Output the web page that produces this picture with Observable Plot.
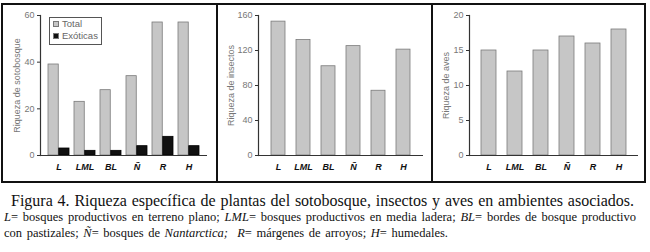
<!DOCTYPE html>
<html>
<head>
<meta charset="utf-8">
<script src="https://cdn.jsdelivr.net/npm/d3@7"></script>
<script src="https://cdn.jsdelivr.net/npm/@observablehq/plot@0.6"></script>
<style>
  html, body { margin: 0; padding: 0; background: #fff; }
  #page { position: relative; width: 650px; height: 252px; overflow: hidden; font-family: "Liberation Sans", Arial, sans-serif; }
  #frame { position: absolute; left: 1px; top: 3px; width: 645px; height: 180px; box-sizing: border-box; border: 2px solid #111; }
  .panel { position: absolute; top: 0; height: 176px; }
  .divider { position: absolute; top: 0; width: 2px; height: 176px; background: #111; }
  .panel svg { display: block; }
  #legend { position: absolute; left: 46px; top: 12px; width: 51px; height: 26px; border: 1px solid #555; background: #fff; font-size: 9.5px; color: #666; line-height: 12px; }
  #legend div { position: relative; padding-left: 12px; white-space: nowrap; }
  #legend span.sw { position: absolute; left: 3px; top: 3px; width: 6px; height: 6px; box-sizing: border-box; border: 1px solid #777; }
  .cap { position: absolute; font-family: "Liberation Serif", "Times New Roman", serif; color: #111; white-space: nowrap; text-align: justify; text-align-last: justify; }
</style>
</head>
<body>
<div id="page">
  <div id="frame">
    <div class="panel" id="p1" style="left:0px;width:213px;"></div>
    <div class="divider" style="left:213px;"></div>
    <div class="panel" id="p2" style="left:215px;width:213px;"></div>
    <div class="divider" style="left:428px;"></div>
    <div class="panel" id="p3" style="left:430px;width:211px;"></div>
  </div>
  <div class="cap" id="cap1" style="left:11px;top:192px;width:623px;font-size:16px;"></div>
  <div class="cap" id="cap2" style="left:4px;top:210px;width:632px;font-size:12.5px;"></div>
  <div class="cap" id="cap3" style="left:4px;top:226px;width:444px;font-size:12.5px;"></div>
</div>
<script>
// ---- data ----
const categories = ["L", "LML", "BL", "Ñ", "R", "H"];
const plantsTotal = [39, 23, 28, 34, 57, 57];
const plantsExotic = [3, 2, 2, 4, 8, 4];
const insects = [153, 132, 102, 125, 74, 121];
const birds = [15, 12, 15, 17, 16, 18];
const plantTicks = [0, 20, 40, 60];
const insectTicks = [0, 40, 80, 120, 160];
const birdTicks = [0, 5, 10, 15, 20];
const legendLabels = ["Total", "Exóticas"];
const yLabels = ["Riqueza de sotobosque", "Riqueza de insectos", "Riqueza de aves"];
const captionTitle = "Figura 4. Riqueza específica de plantas del sotobosque, insectos y aves en ambientes asociados.";

// ---- styles ----
const barFill = "#c6c6c6";
const barStroke = "#7a7a7a";
const tickColor = "#777";
const font = "Liberation Sans, Arial, sans-serif";

function panel({values, extra, ticks, domainMax, label, width, ml, mr, labelOffset, padding}) {
  const rows = categories.map((c, i) => ({cat: c, v: values[i], e: extra ? extra[i] : null}));
  const marks = [];
  if (extra) {
    marks.push(Plot.barY(rows, {x: "cat", y: "v", fill: barFill, stroke: barStroke, strokeWidth: 0.8, insetRight: 10.75}));
    marks.push(Plot.barY(rows, {x: "cat", y: "e", fill: "#111", stroke: "#000", strokeWidth: 0.8, insetLeft: 10.75}));
  } else {
    marks.push(Plot.barY(rows, {x: "cat", y: "v", fill: barFill, stroke: barStroke, strokeWidth: 0.8}));
  }
  marks.push(Plot.ruleY([0], {stroke: "#333", strokeWidth: 1.2}));
  marks.push(Plot.frame({anchor: "left", stroke: "#333", strokeWidth: 1.2}));
  marks.push(Plot.axisY({ticks, tickSize: 3, tickPadding: 3, fontSize: 9, fill: tickColor, stroke: "#333",
    label, labelAnchor: "center", labelOffset, labelArrow: "none"}));
  marks.push(Plot.axisX({tickSize: 0, tickPadding: 8, fontSize: 9, fontWeight: "bold", fontStyle: "italic", fill: "#111", label: null}));
  return Plot.plot({
    width, height: 176,
    marginLeft: ml, marginRight: mr, marginTop: 10, marginBottom: 26,
    style: {fontFamily: font, background: "transparent", overflow: "visible"},
    x: {domain: categories, padding, label: null},
    y: {domain: [0, domainMax], label},
    marks
  });
}

document.getElementById("p1").append(panel({values: plantsTotal, extra: plantsExotic, ticks: plantTicks, domainMax: 60,
  label: yLabels[0], width: 213, ml: 37, mr: 9, labelOffset: 27, padding: 0.2}));
document.getElementById("p2").append(panel({values: insects, ticks: insectTicks, domainMax: 160,
  label: yLabels[1], width: 213, ml: 40, mr: 8, labelOffset: 31, padding: 0.45}));
document.getElementById("p3").append(panel({values: birds, ticks: birdTicks, domainMax: 20,
  label: yLabels[2], width: 211, ml: 36, mr: 6, labelOffset: 27, padding: 0.42}));

// legend
const lg = document.createElement("div");
lg.id = "legend";
lg.innerHTML = legendLabels.map((t, i) =>
  `<div><span class="sw" style="background:${i === 0 ? barFill : "#111"}"></span>${t}</div>`).join("");
document.getElementById("p1").append(lg);

// caption
document.getElementById("cap1").textContent = captionTitle;
document.getElementById("cap2").innerHTML = "<i>L</i>= bosques productivos en terreno plano; <i>LML</i>= bosques productivos en media ladera; <i>BL</i>= bordes de bosque productivo";
document.getElementById("cap3").innerHTML = "con pastizales; <i>Ñ</i>= bosques de <i>Nantarctica;</i>&nbsp; <i>R</i>= márgenes de arroyos; <i>H</i>= humedales.";
</script>
</body>
</html>
